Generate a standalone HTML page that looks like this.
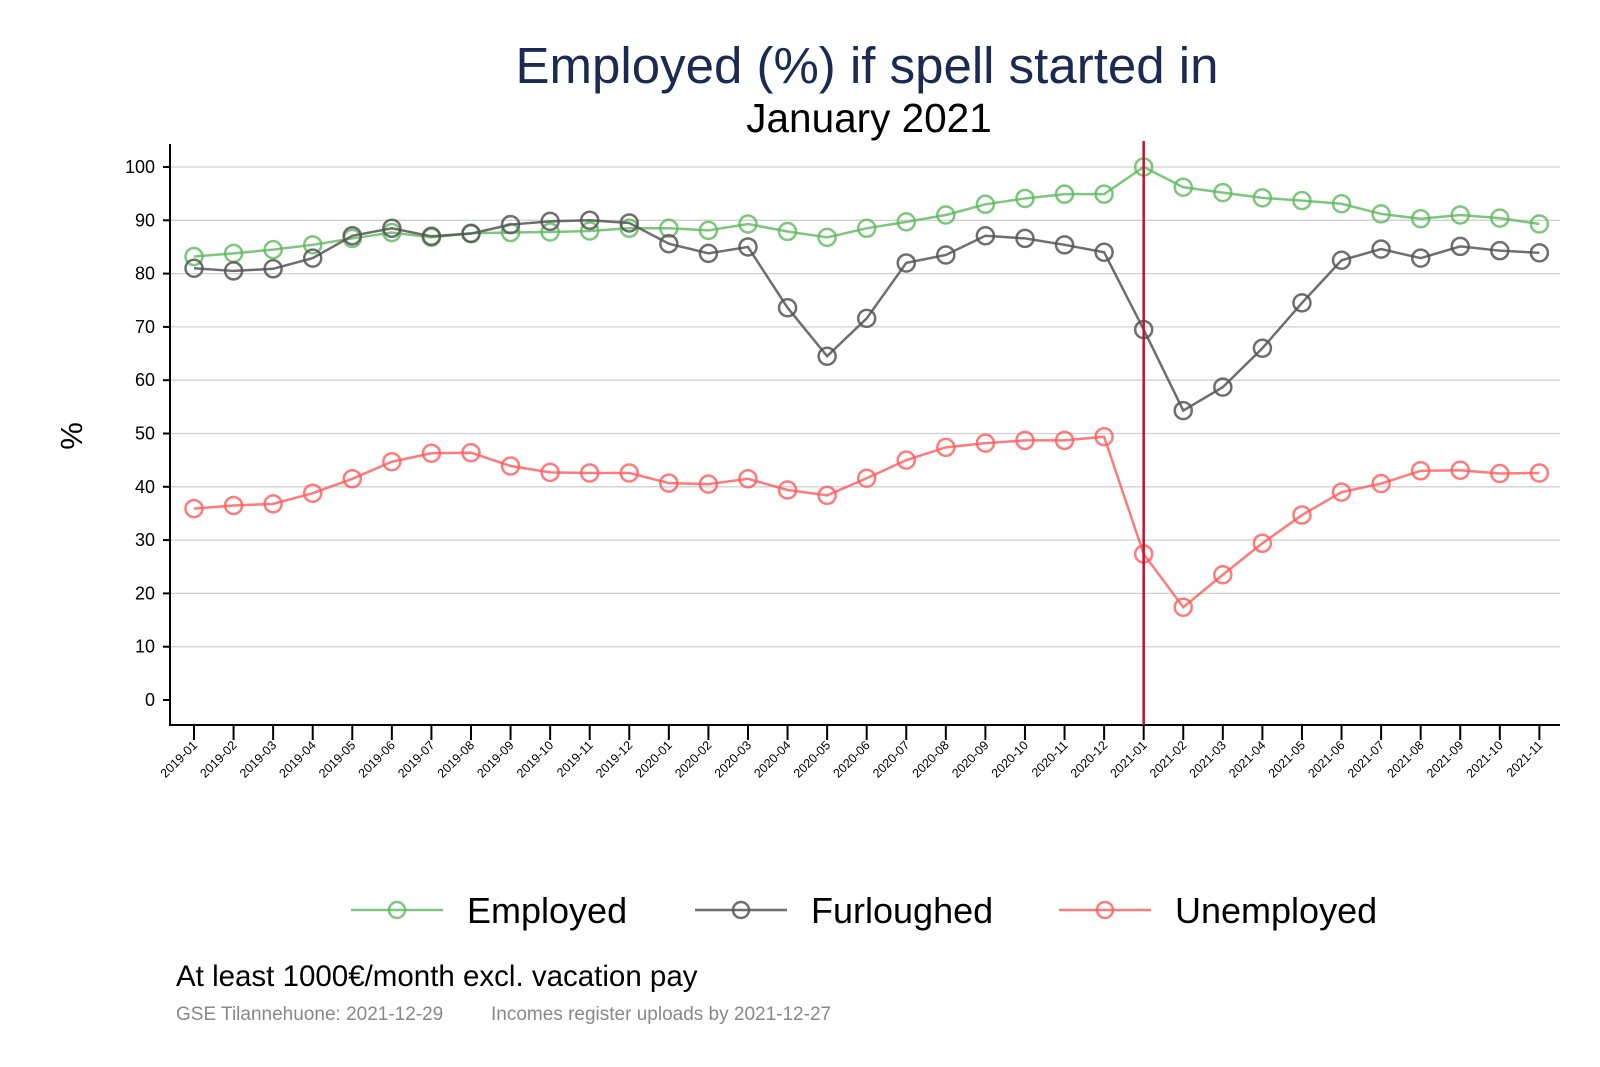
<!DOCTYPE html>
<html><head><meta charset="utf-8"><style>
html,body{margin:0;padding:0;background:#fff;}
svg{display:block;font-family:"Liberation Sans",Arial,sans-serif;}
</style></head><body>
<svg id="s" width="1600" height="1067" xmlns="http://www.w3.org/2000/svg">
<text x="867" y="83" font-size="51" fill="#1a2a52" text-anchor="middle">Employed (%) if spell started in</text>
<text x="869" y="132" font-size="40.5" fill="#000" text-anchor="middle">January 2021</text>
<text transform="translate(82,436) rotate(-90)" font-size="31" text-anchor="middle">%</text>
<g id="grid"></g>
<g id="series"></g>
<line x1="351" y1="910" x2="443" y2="910" stroke="#5cb85c" stroke-opacity="0.8" stroke-width="2.5"/>
<circle cx="397" cy="910" r="8" fill="none" stroke="#5cb85c" stroke-opacity="0.8" stroke-width="2.5"/>
<text x="467" y="923" font-size="36">Employed</text>
<line x1="695" y1="910" x2="787" y2="910" stroke="#555" stroke-opacity="0.85" stroke-width="2.5"/>
<circle cx="741" cy="910" r="8" fill="none" stroke="#555" stroke-opacity="0.85" stroke-width="2.5"/>
<text x="811" y="923" font-size="36">Furloughed</text>
<line x1="1059" y1="910" x2="1151" y2="910" stroke="#ff5a5a" stroke-opacity="0.8" stroke-width="2.5"/>
<circle cx="1105" cy="910" r="8" fill="none" stroke="#ff5a5a" stroke-opacity="0.8" stroke-width="2.5"/>
<text x="1175" y="923" font-size="36">Unemployed</text>
<text x="176" y="986" font-size="29.5">At least 1000€/month excl. vacation pay</text>
<text x="176" y="1020" font-size="19" fill="#888">GSE Tilannehuone: 2021-12-29</text>
<text x="491" y="1020" font-size="19" fill="#888">Incomes register uploads by 2021-12-27</text>
</svg>
<script>
var NS="http://www.w3.org/2000/svg";
function el(p,t,a,txt){var e=document.createElementNS(NS,t);for(var k in a)e.setAttribute(k,a[k]);if(txt!==undefined)e.textContent=txt;p.appendChild(e);return e;}
var g=document.getElementById('grid'),sg=document.getElementById('series');
function X(i){return 194+i*39.57;} function Y(v){return 700-5.33*v;}
for(var v=0;v<=100;v+=10){var y=Y(v);
 if(v>0)el(g,'line',{x1:170,x2:1560,y1:y,y2:y,stroke:'#d0d0d0','stroke-width':1.3});
 el(g,'line',{x1:163,x2:170,y1:y,y2:y,stroke:'#000','stroke-width':2});
 el(g,'text',{x:155,y:y+6,'font-size':18,'text-anchor':'end'},String(v));}
el(g,'line',{x1:170,x2:170,y1:144,y2:726,stroke:'#000','stroke-width':2});
el(g,'line',{x1:169,x2:1560,y1:725,y2:725,stroke:'#000','stroke-width':2});
var labs=[];for(var yy=2019;yy<=2021;yy++)for(var m=1;m<=12;m++){if(yy==2021&&m>11)break;labs.push(yy+'-'+(m<10?'0':'')+m);}
labs.forEach(function(l,i){var x=X(i);el(g,'line',{x1:x,x2:x,y1:725,y2:740,stroke:'#000','stroke-width':2});
 el(g,'text',{transform:'translate('+(x+4)+',746) rotate(-45)','font-size':12.5,'text-anchor':'end'},l);});
var E=[83.2,83.8,84.5,85.4,86.6,87.7,86.8,87.6,87.7,87.8,88.0,88.5,88.5,88.1,89.3,87.9,86.8,88.5,89.7,91.0,93.0,94.1,94.9,94.9,100,96.2,95.2,94.2,93.7,93.1,91.2,90.3,91.0,90.4,89.3];
var F=[81.0,80.5,80.9,82.9,87.1,88.5,87.0,87.5,89.2,89.8,90.0,89.5,85.6,83.8,85.0,73.6,64.5,71.6,82.0,83.5,87.1,86.6,85.4,84.0,69.5,54.3,58.7,66.0,74.5,82.5,84.6,82.9,85.1,84.3,83.9];
var U=[35.9,36.5,36.8,38.8,41.5,44.7,46.3,46.4,43.9,42.7,42.6,42.6,40.7,40.5,41.5,39.4,38.4,41.6,45.0,47.4,48.2,48.7,48.7,49.4,27.4,17.4,23.5,29.4,34.7,39.0,40.6,43.0,43.1,42.5,42.6];
function ser(d,c,o){var p=d.map(function(v,i){return X(i)+','+Y(v);}).join(' ');
 el(sg,'polyline',{points:p,fill:'none',stroke:c,'stroke-opacity':o,'stroke-width':2.5});
 d.forEach(function(v,i){el(sg,'circle',{cx:X(i),cy:Y(v),r:8.5,fill:'none',stroke:c,'stroke-opacity':o,'stroke-width':2.5});});}
ser(E,'#5cb85c',0.8);ser(F,'#555',0.85);ser(U,'#ff5a5a',0.8);
el(sg,'line',{x1:X(24),x2:X(24),y1:141,y2:725,stroke:'#c8102e','stroke-width':2.5});
</script>
</body></html>
